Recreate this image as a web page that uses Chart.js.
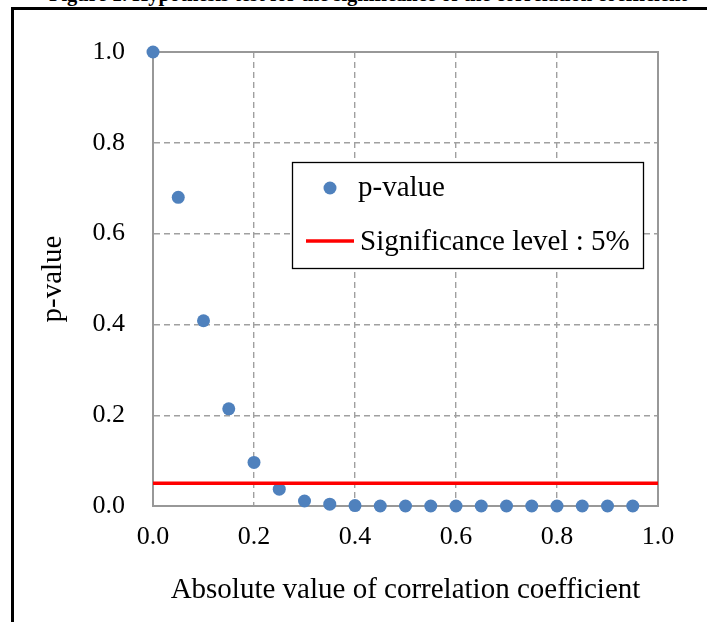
<!DOCTYPE html>
<html>
<head>
<meta charset="utf-8">
<script src="https://cdn.jsdelivr.net/npm/chart.js@4/dist/chart.umd.min.js"></script>
<style>
  html, body { margin: 0; padding: 0; background: #fff; width: 707px; height: 622px; overflow: hidden; }
  #wrap { position: relative; width: 707px; height: 622px; overflow: hidden; }
  #frame { position: absolute; left: 11px; top: 7px; width: 800px; height: 700px;
           border-top: 3px solid #000; border-left: 3px solid #000; }
  #caption { position: absolute; left: 0; width: 736px; top: -17px; text-align: center;
             font: bold 20.5px "Liberation Serif", "Times New Roman", serif; color: #000; white-space: nowrap; }
  #chart { position: absolute; left: 0; top: 0; }
</style>
</head>
<body>
<div id="wrap">
  <div id="caption">Figure 1. Hypothesis test for the significance of the correlation coefficient</div>
  <div id="frame"></div>
  <canvas id="chart" width="707" height="622"></canvas>
</div>
<script>
// ---- Data ----
const correlation = [0.00, 0.05, 0.10, 0.15, 0.20, 0.25, 0.30, 0.35, 0.40, 0.45,
                     0.50, 0.55, 0.60, 0.65, 0.70, 0.75, 0.80, 0.85, 0.90, 0.95];
const pValues     = [1.000, 0.680, 0.408, 0.214, 0.096, 0.037, 0.011, 0.004, 0.001, 0.000,
                     0.000, 0.000, 0.000, 0.000, 0.000, 0.000, 0.000, 0.000, 0.000, 0.000];
const significanceX = [0.0, 1.0];
const significanceY = [0.05, 0.05];
const xTickLabels = ['0.0', '0.2', '0.4', '0.6', '0.8', '1.0'];
const yTickLabels = ['0.0', '0.2', '0.4', '0.6', '0.8', '1.0'];
const seriesNames = ['p-value', 'Significance level : 5%'];
const axisTitles = { x: 'Absolute value of correlation coefficient', y: 'p-value' };

const SERIF = '"Liberation Serif", "Times New Roman", serif';
const BLUE = '#4F81BD';
const RED = '#FF0000';
const GRID = '#a0a0a0';
const AXIS = '#989898';

const plotFrame = {
  id: 'plotFrame',
  beforeDatasetsDraw(chart) {
    const {ctx, chartArea: a} = chart;
    ctx.save();
    ctx.strokeStyle = AXIS;
    ctx.lineWidth = 2;
    ctx.strokeRect(a.left, a.top, a.right - a.left, a.bottom - a.top);
    ctx.restore();
  }
};

const boxLegend = {
  id: 'boxLegend',
  afterDraw(chart) {
    const {ctx} = chart;
    const ds = chart.data.datasets;
    ctx.save();
    ctx.fillStyle = '#fff';
    ctx.fillRect(292.5, 162.5, 351, 106);
    ctx.strokeStyle = '#000';
    ctx.lineWidth = 1.3;
    ctx.strokeRect(292.5, 162.5, 351, 106);
    ctx.fillStyle = ds[0].backgroundColor;
    ctx.beginPath();
    ctx.arc(330, 188, 6.5, 0, Math.PI * 2);
    ctx.fill();
    ctx.strokeStyle = ds[1].borderColor;
    ctx.lineWidth = 3.5;
    ctx.beginPath();
    ctx.moveTo(306, 241);
    ctx.lineTo(354, 241);
    ctx.stroke();
    ctx.fillStyle = '#000';
    ctx.font = '29px ' + SERIF;
    ctx.textBaseline = 'alphabetic';
    ctx.textAlign = 'left';
    ctx.fillText(ds[0].label, 358, 196);
    ctx.fillText(ds[1].label, 360, 250);
    ctx.restore();
  }
};

new Chart(document.getElementById('chart'), {
  type: 'scatter',
  data: {
    datasets: [
      {
        label: seriesNames[0],
        data: correlation.map((x, i) => ({x: x, y: pValues[i]})),
        showLine: false,
        pointRadius: 6.5,
        pointHoverRadius: 6.5,
        backgroundColor: BLUE,
        borderColor: BLUE,
        borderWidth: 0,
        clip: false,
        order: 2
      },
      {
        label: seriesNames[1],
        type: 'line',
        data: significanceX.map((x, i) => ({x: x, y: significanceY[i]})),
        showLine: true,
        borderColor: RED,
        backgroundColor: RED,
        borderWidth: 3.5,
        pointRadius: 0,
        fill: false,
        clip: false,
        order: 1
      }
    ]
  },
  options: {
    responsive: false,
    animation: false,
    devicePixelRatio: 1,
    layout: { padding: { top: 52, right: 49, left: 0, bottom: 0 } },
    plugins: {
      legend: { display: false },
      tooltip: { enabled: false },
      title: { display: false }
    },
    scales: {
      x: {
        type: 'linear',
        min: 0, max: 1,
        afterFit(scale) { scale.height = 116; },
        ticks: {
          stepSize: 0.2,
          color: '#000',
          font: { family: SERIF, size: 26 },
          padding: 16,
          maxRotation: 0,
          callback: (v, i) => xTickLabels[i]
        },
        grid: { color: GRID, lineWidth: 1.4, drawTicks: false },
        border: { display: true, color: AXIS, width: 2, dash: [6, 4] },
        title: {
          display: true,
          text: axisTitles.x,
          color: '#000',
          font: { family: SERIF, size: 29 },
          padding: { top: 0, bottom: 14 }
        }
      },
      y: {
        type: 'linear',
        min: 0, max: 1,
        afterFit(scale) { scale.width = 153; },
        ticks: {
          stepSize: 0.2,
          color: '#000',
          font: { family: SERIF, size: 26 },
          padding: 28,
          callback: (v, i) => yTickLabels[i]
        },
        grid: { color: GRID, lineWidth: 1.4, drawTicks: false },
        border: { display: true, color: AXIS, width: 2, dash: [6, 4] },
        title: {
          display: true,
          text: axisTitles.y,
          color: '#000',
          font: { family: SERIF, size: 29 },
          padding: { top: 36, bottom: 0 }
        }
      }
    }
  },
  plugins: [plotFrame, boxLegend]
});
</script>
</body>
</html>
